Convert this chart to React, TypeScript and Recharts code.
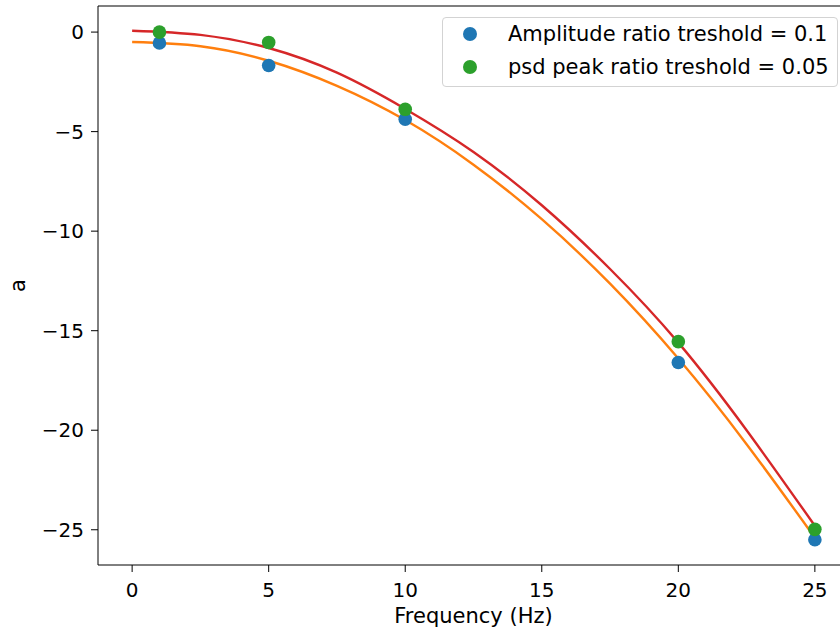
import React from "react";
import {
  ComposedChart,
  Line,
  Scatter,
  XAxis,
  YAxis,
  Legend,
  ReferenceLine,
} from "recharts";

// measured points (Hz -> a)
const freqs = [1, 5, 10, 20, 25];
const ampRatioA = [-0.55, -1.68, -4.38, -16.6, -25.5];
const psdRatioA = [0.0, -0.52, -3.88, -15.55, -24.98];

// fitted curves
const fitFreqs = [0, 2.5, 5, 7.5, 10, 12.5, 15, 17.5, 20, 22.5, 25];
const ampFit = [-0.5, -0.71, -1.44, -2.7, -4.42, -6.66, -9.4, -12.64, -16.4, -20.7, -25.4];
const psdFit = [0.07, -0.14, -0.8, -2.04, -3.86, -6.02, -8.7, -11.9, -15.6, -20.0, -24.8];

const xTicks = [0, 5, 10, 15, 20, 25];
const yTicks = [0, -5, -10, -15, -20, -25];
const legendLabels = ["Amplitude ratio treshold = 0.1", "psd peak ratio treshold = 0.05"];

const BLUE = "#1f77b4";
const ORANGE = "#ff7f0e";
const GREEN = "#2ca02c";
const RED = "#d62728";
const FONT = "'DejaVu Sans', sans-serif";
const Y_MAX = 1.31;

const ampPts = freqs.map((x, i) => ({ x, y: ampRatioA[i] }));
const psdPts = freqs.map((x, i) => ({ x, y: psdRatioA[i] }));
const ampLine = fitFreqs.map((x, i) => ({ x, y: ampFit[i] }));
const psdLine = fitFreqs.map((x, i) => ({ x, y: psdFit[i] }));

const fmt = (v: number) => (v < 0 ? `\u2212${-v}` : `${v}`);

const dot = (color: string) => (p: any) => <circle cx={p.cx} cy={p.cy} r={6.8} fill={color} />;

function LegendBox() {
  const colors = [BLUE, GREEN];
  return (
    <div
      style={{
        width: 394,
        height: 68,
        border: "1px solid #d3d3d3",
        borderRadius: 4,
        background: "rgba(255,255,255,0.8)",
        position: "relative",
        fontFamily: FONT,
        fontSize: 21,
        color: "#000",
      }}
    >
      {legendLabels.map((t, i) => (
        <div
          key={t}
          style={{ position: "absolute", left: 0, top: 2 + i * 33, height: 28, display: "flex", alignItems: "center" }}
        >
          <span
            style={{
              display: "inline-block",
              width: 14,
              height: 14,
              borderRadius: 7,
              background: colors[i],
              marginLeft: 20,
              marginRight: 31,
            }}
          />
          <span style={{ whiteSpace: "nowrap" }}>{t}</span>
        </div>
      ))}
    </div>
  );
}

export default function App() {
  return (
    <div style={{ position: "fixed", left: 0, top: 0, width: 840, height: 634, overflow: "hidden", background: "#fff" }}>
      <ComposedChart width={860} height={634} margin={{ top: 6, right: 11, bottom: 0, left: 0 }}>
        <XAxis
          dataKey="x"
          type="number"
          domain={[-1.25, 26.25]}
          ticks={xTicks}
          allowDataOverflow
          height={69}
          stroke="#000"
          tickSize={7}
          tickMargin={11}
          tick={{ fontSize: 20, fill: "#000", fontFamily: FONT }}
          label={{ value: "Frequency (Hz)", position: "insideBottom", offset: 11, fontSize: 21, fill: "#000", fontFamily: FONT }}
        />
        <YAxis
          type="number"
          domain={[-26.77, Y_MAX]}
          ticks={yTicks}
          allowDataOverflow
          width={98}
          stroke="#000"
          tickSize={7}
          tickMargin={7}
          tickFormatter={fmt}
          tick={{ fontSize: 20, fill: "#000", fontFamily: FONT }}
          label={{ value: "a", angle: -90, position: "center", dx: -31, fontSize: 21, fill: "#000", fontFamily: FONT }}
        />
        {/* top spine */}
        <ReferenceLine y={Y_MAX} stroke="#000" strokeWidth={1.2} />
        <Legend
          layout="vertical"
          align="center"
          verticalAlign="middle"
          wrapperStyle={{ top: 17, left: 442, width: 396 }}
          content={() => <LegendBox />}
        />
        <Scatter data={ampPts} dataKey="y" fill={BLUE} shape={dot(BLUE)} isAnimationActive={false} />
        <Line data={ampLine} dataKey="y" type="natural" stroke={ORANGE} strokeWidth={2.4} dot={false} activeDot={false} isAnimationActive={false} />
        <Scatter data={psdPts} dataKey="y" fill={GREEN} shape={dot(GREEN)} isAnimationActive={false} />
        <Line data={psdLine} dataKey="y" type="natural" stroke={RED} strokeWidth={2.4} dot={false} activeDot={false} isAnimationActive={false} />
      </ComposedChart>
    </div>
  );
}
